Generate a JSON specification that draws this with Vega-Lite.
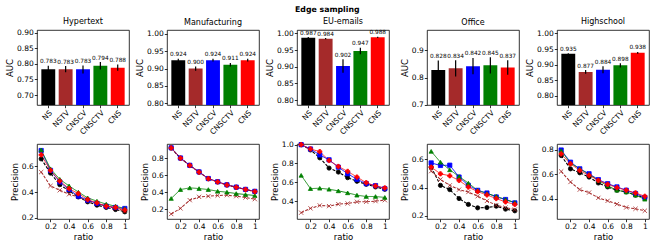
{
"$schema":"https://vega.github.io/schema/vega-lite/v6.json",
"padding":{"left":5,"top":5,"right":5,"bottom":5},
"title":{"text":"Edge sampling","fontWeight":"bold","fontSize":7.8,"frame":"bounds","anchor":"middle","offset":4},
"columns":5,
"spacing":{"row":39,"column":38},
"bounds":"flush",
"resolve":{"scale":{"x":"independent","y":"independent"}},
"config":{
 "font":"DejaVu Sans",
 "view":{"stroke":"black","strokeWidth":0.8},
 "title":{"font":"DejaVu Sans","fontSize":8,"fontWeight":"normal","color":"black","offset":3,"frame":"group","anchor":"middle"},
 "text":{"fill":"black","color":"black"},
 "axis":{"labelFont":"DejaVu Sans","labelFontSize":7.5,"labelColor":"black","titleFont":"DejaVu Sans","titleFontSize":8.5,"titleFontWeight":"normal","titleColor":"black","tickColor":"black","tickSize":2.7,"tickWidth":0.8,"labelPadding":1,"titlePadding":2,"grid":false,"domain":false}
},
"datasets":{
"auc":[
{"d":"Hypertext","m":"NS","a":0.783,"lo":0.772,"hi":0.794},
{"d":"Hypertext","m":"NSTV","a":0.783,"lo":0.773,"hi":0.793},
{"d":"Hypertext","m":"CNSCV","a":0.783,"lo":0.769,"hi":0.795},
{"d":"Hypertext","m":"CNSCTV","a":0.794,"lo":0.782,"hi":0.806},
{"d":"Hypertext","m":"CNS","a":0.788,"lo":0.778,"hi":0.798},
{"d":"Manufacturing","m":"NS","a":0.924,"lo":0.920,"hi":0.928},
{"d":"Manufacturing","m":"NSTV","a":0.900,"lo":0.894,"hi":0.906},
{"d":"Manufacturing","m":"CNSCV","a":0.924,"lo":0.920,"hi":0.928},
{"d":"Manufacturing","m":"CNSCTV","a":0.911,"lo":0.906,"hi":0.916},
{"d":"Manufacturing","m":"CNS","a":0.924,"lo":0.920,"hi":0.928},
{"d":"EU-emails","m":"NS","a":0.987,"lo":0.985,"hi":0.989},
{"d":"EU-emails","m":"NSTV","a":0.984,"lo":0.982,"hi":0.986},
{"d":"EU-emails","m":"CNSCV","a":0.902,"lo":0.882,"hi":0.922},
{"d":"EU-emails","m":"CNSCTV","a":0.947,"lo":0.937,"hi":0.957},
{"d":"EU-emails","m":"CNS","a":0.988,"lo":0.986,"hi":0.990},
{"d":"Office","m":"NS","a":0.828,"lo":0.793,"hi":0.863},
{"d":"Office","m":"NSTV","a":0.834,"lo":0.804,"hi":0.864},
{"d":"Office","m":"CNSCV","a":0.842,"lo":0.812,"hi":0.872},
{"d":"Office","m":"CNSCTV","a":0.845,"lo":0.815,"hi":0.875},
{"d":"Office","m":"CNS","a":0.837,"lo":0.810,"hi":0.864},
{"d":"Highschool","m":"NS","a":0.935,"lo":0.933,"hi":0.937},
{"d":"Highschool","m":"NSTV","a":0.877,"lo":0.871,"hi":0.883},
{"d":"Highschool","m":"CNSCV","a":0.884,"lo":0.873,"hi":0.895},
{"d":"Highschool","m":"CNSCTV","a":0.898,"lo":0.891,"hi":0.905},
{"d":"Highschool","m":"CNS","a":0.938,"lo":0.935,"hi":0.941}
],
"prec":[
{"d":"Hypertext","m":"NS","r":0.1,"p":0.659},{"d":"Hypertext","m":"NS","r":0.2,"p":0.548},{"d":"Hypertext","m":"NS","r":0.3,"p":0.458},{"d":"Hypertext","m":"NS","r":0.4,"p":0.409},{"d":"Hypertext","m":"NS","r":0.5,"p":0.362},{"d":"Hypertext","m":"NS","r":0.6,"p":0.324},{"d":"Hypertext","m":"NS","r":0.7,"p":0.298},{"d":"Hypertext","m":"NS","r":0.8,"p":0.280},{"d":"Hypertext","m":"NS","r":0.9,"p":0.264},{"d":"Hypertext","m":"NS","r":1.0,"p":0.246},
{"d":"Hypertext","m":"NSTV","r":0.1,"p":0.556},{"d":"Hypertext","m":"NSTV","r":0.2,"p":0.448},{"d":"Hypertext","m":"NSTV","r":0.3,"p":0.414},{"d":"Hypertext","m":"NSTV","r":0.4,"p":0.383},{"d":"Hypertext","m":"NSTV","r":0.5,"p":0.363},{"d":"Hypertext","m":"NSTV","r":0.6,"p":0.330},{"d":"Hypertext","m":"NSTV","r":0.7,"p":0.310},{"d":"Hypertext","m":"NSTV","r":0.8,"p":0.290},{"d":"Hypertext","m":"NSTV","r":0.9,"p":0.272},{"d":"Hypertext","m":"NSTV","r":1.0,"p":0.254},
{"d":"Hypertext","m":"CNSCV","r":0.1,"p":0.724},{"d":"Hypertext","m":"CNSCV","r":0.2,"p":0.569},{"d":"Hypertext","m":"CNSCV","r":0.3,"p":0.479},{"d":"Hypertext","m":"CNSCV","r":0.4,"p":0.420},{"d":"Hypertext","m":"CNSCV","r":0.5,"p":0.368},{"d":"Hypertext","m":"CNSCV","r":0.6,"p":0.337},{"d":"Hypertext","m":"CNSCV","r":0.7,"p":0.311},{"d":"Hypertext","m":"CNSCV","r":0.8,"p":0.290},{"d":"Hypertext","m":"CNSCV","r":0.9,"p":0.280},{"d":"Hypertext","m":"CNSCV","r":1.0,"p":0.272},
{"d":"Hypertext","m":"CNSCTV","r":0.1,"p":0.729},{"d":"Hypertext","m":"CNSCTV","r":0.2,"p":0.582},{"d":"Hypertext","m":"CNSCTV","r":0.3,"p":0.500},{"d":"Hypertext","m":"CNSCTV","r":0.4,"p":0.448},{"d":"Hypertext","m":"CNSCTV","r":0.5,"p":0.400},{"d":"Hypertext","m":"CNSCTV","r":0.6,"p":0.355},{"d":"Hypertext","m":"CNSCTV","r":0.7,"p":0.329},{"d":"Hypertext","m":"CNSCTV","r":0.8,"p":0.306},{"d":"Hypertext","m":"CNSCTV","r":0.9,"p":0.290},{"d":"Hypertext","m":"CNSCTV","r":1.0,"p":0.272},
{"d":"Hypertext","m":"CNS","r":0.1,"p":0.690},{"d":"Hypertext","m":"CNS","r":0.2,"p":0.569},{"d":"Hypertext","m":"CNS","r":0.3,"p":0.486},{"d":"Hypertext","m":"CNS","r":0.4,"p":0.427},{"d":"Hypertext","m":"CNS","r":0.5,"p":0.388},{"d":"Hypertext","m":"CNS","r":0.6,"p":0.342},{"d":"Hypertext","m":"CNS","r":0.7,"p":0.316},{"d":"Hypertext","m":"CNS","r":0.8,"p":0.290},{"d":"Hypertext","m":"CNS","r":0.9,"p":0.280},{"d":"Hypertext","m":"CNS","r":1.0,"p":0.260},
{"d":"Manufacturing","m":"NS","r":0.1,"p":0.920},{"d":"Manufacturing","m":"NS","r":0.2,"p":0.800},{"d":"Manufacturing","m":"NS","r":0.3,"p":0.714},{"d":"Manufacturing","m":"NS","r":0.4,"p":0.636},{"d":"Manufacturing","m":"NS","r":0.5,"p":0.558},{"d":"Manufacturing","m":"NS","r":0.6,"p":0.520},{"d":"Manufacturing","m":"NS","r":0.7,"p":0.484},{"d":"Manufacturing","m":"NS","r":0.8,"p":0.457},{"d":"Manufacturing","m":"NS","r":0.9,"p":0.430},{"d":"Manufacturing","m":"NS","r":1.0,"p":0.407},
{"d":"Manufacturing","m":"NSTV","r":0.1,"p":0.142},{"d":"Manufacturing","m":"NSTV","r":0.2,"p":0.208},{"d":"Manufacturing","m":"NSTV","r":0.3,"p":0.305},{"d":"Manufacturing","m":"NSTV","r":0.4,"p":0.344},{"d":"Manufacturing","m":"NSTV","r":0.5,"p":0.352},{"d":"Manufacturing","m":"NSTV","r":0.6,"p":0.360},{"d":"Manufacturing","m":"NSTV","r":0.7,"p":0.364},{"d":"Manufacturing","m":"NSTV","r":0.8,"p":0.352},{"d":"Manufacturing","m":"NSTV","r":0.9,"p":0.336},{"d":"Manufacturing","m":"NSTV","r":1.0,"p":0.317},
{"d":"Manufacturing","m":"CNSCV","r":0.1,"p":0.922},{"d":"Manufacturing","m":"CNSCV","r":0.2,"p":0.802},{"d":"Manufacturing","m":"CNSCV","r":0.3,"p":0.716},{"d":"Manufacturing","m":"CNSCV","r":0.4,"p":0.638},{"d":"Manufacturing","m":"CNSCV","r":0.5,"p":0.560},{"d":"Manufacturing","m":"CNSCV","r":0.6,"p":0.522},{"d":"Manufacturing","m":"CNSCV","r":0.7,"p":0.486},{"d":"Manufacturing","m":"CNSCV","r":0.8,"p":0.459},{"d":"Manufacturing","m":"CNSCV","r":0.9,"p":0.432},{"d":"Manufacturing","m":"CNSCV","r":1.0,"p":0.409},
{"d":"Manufacturing","m":"CNSCTV","r":0.1,"p":0.325},{"d":"Manufacturing","m":"CNSCTV","r":0.2,"p":0.430},{"d":"Manufacturing","m":"CNSCTV","r":0.3,"p":0.450},{"d":"Manufacturing","m":"CNSCTV","r":0.4,"p":0.442},{"d":"Manufacturing","m":"CNSCTV","r":0.5,"p":0.430},{"d":"Manufacturing","m":"CNSCTV","r":0.6,"p":0.410},{"d":"Manufacturing","m":"CNSCTV","r":0.7,"p":0.399},{"d":"Manufacturing","m":"CNSCTV","r":0.8,"p":0.383},{"d":"Manufacturing","m":"CNSCTV","r":0.9,"p":0.371},{"d":"Manufacturing","m":"CNSCTV","r":1.0,"p":0.360},
{"d":"Manufacturing","m":"CNS","r":0.1,"p":0.920},{"d":"Manufacturing","m":"CNS","r":0.2,"p":0.800},{"d":"Manufacturing","m":"CNS","r":0.3,"p":0.714},{"d":"Manufacturing","m":"CNS","r":0.4,"p":0.636},{"d":"Manufacturing","m":"CNS","r":0.5,"p":0.558},{"d":"Manufacturing","m":"CNS","r":0.6,"p":0.520},{"d":"Manufacturing","m":"CNS","r":0.7,"p":0.484},{"d":"Manufacturing","m":"CNS","r":0.8,"p":0.457},{"d":"Manufacturing","m":"CNS","r":0.9,"p":0.430},{"d":"Manufacturing","m":"CNS","r":1.0,"p":0.407},
{"d":"EU-emails","m":"NS","r":0.1,"p":1.0},{"d":"EU-emails","m":"NS","r":0.2,"p":0.944},{"d":"EU-emails","m":"NS","r":0.3,"p":0.860},{"d":"EU-emails","m":"NS","r":0.4,"p":0.751},{"d":"EU-emails","m":"NS","r":0.5,"p":0.709},{"d":"EU-emails","m":"NS","r":0.6,"p":0.649},{"d":"EU-emails","m":"NS","r":0.7,"p":0.611},{"d":"EU-emails","m":"NS","r":0.8,"p":0.579},{"d":"EU-emails","m":"NS","r":0.9,"p":0.551},{"d":"EU-emails","m":"NS","r":1.0,"p":0.526},
{"d":"EU-emails","m":"NSTV","r":0.1,"p":0.277},{"d":"EU-emails","m":"NSTV","r":0.2,"p":0.323},{"d":"EU-emails","m":"NSTV","r":0.3,"p":0.354},{"d":"EU-emails","m":"NSTV","r":0.4,"p":0.347},{"d":"EU-emails","m":"NSTV","r":0.5,"p":0.368},{"d":"EU-emails","m":"NSTV","r":0.6,"p":0.375},{"d":"EU-emails","m":"NSTV","r":0.7,"p":0.393},{"d":"EU-emails","m":"NSTV","r":0.8,"p":0.393},{"d":"EU-emails","m":"NSTV","r":0.9,"p":0.400},{"d":"EU-emails","m":"NSTV","r":1.0,"p":0.410},
{"d":"EU-emails","m":"CNSCV","r":0.1,"p":1.0},{"d":"EU-emails","m":"CNSCV","r":0.2,"p":0.954},{"d":"EU-emails","m":"CNSCV","r":0.3,"p":0.891},{"d":"EU-emails","m":"CNSCV","r":0.4,"p":0.839},{"d":"EU-emails","m":"CNSCV","r":0.5,"p":0.761},{"d":"EU-emails","m":"CNSCV","r":0.6,"p":0.691},{"d":"EU-emails","m":"CNSCV","r":0.7,"p":0.632},{"d":"EU-emails","m":"CNSCV","r":0.8,"p":0.586},{"d":"EU-emails","m":"CNSCV","r":0.9,"p":0.565},{"d":"EU-emails","m":"CNSCV","r":1.0,"p":0.533},
{"d":"EU-emails","m":"CNSCTV","r":0.1,"p":0.674},{"d":"EU-emails","m":"CNSCTV","r":0.2,"p":0.533},{"d":"EU-emails","m":"CNSCTV","r":0.3,"p":0.537},{"d":"EU-emails","m":"CNSCTV","r":0.4,"p":0.526},{"d":"EU-emails","m":"CNSCTV","r":0.5,"p":0.509},{"d":"EU-emails","m":"CNSCTV","r":0.6,"p":0.488},{"d":"EU-emails","m":"CNSCTV","r":0.7,"p":0.463},{"d":"EU-emails","m":"CNSCTV","r":0.8,"p":0.449},{"d":"EU-emails","m":"CNSCTV","r":0.9,"p":0.449},{"d":"EU-emails","m":"CNSCTV","r":1.0,"p":0.439},
{"d":"EU-emails","m":"CNS","r":0.1,"p":1.0},{"d":"EU-emails","m":"CNS","r":0.2,"p":0.954},{"d":"EU-emails","m":"CNS","r":0.3,"p":0.926},{"d":"EU-emails","m":"CNS","r":0.4,"p":0.832},{"d":"EU-emails","m":"CNS","r":0.5,"p":0.768},{"d":"EU-emails","m":"CNS","r":0.6,"p":0.716},{"d":"EU-emails","m":"CNS","r":0.7,"p":0.656},{"d":"EU-emails","m":"CNS","r":0.8,"p":0.596},{"d":"EU-emails","m":"CNS","r":0.9,"p":0.561},{"d":"EU-emails","m":"CNS","r":1.0,"p":0.540},
{"d":"Office","m":"NS","r":0.1,"p":0.544},{"d":"Office","m":"NS","r":0.2,"p":0.415},{"d":"Office","m":"NS","r":0.3,"p":0.385},{"d":"Office","m":"NS","r":0.4,"p":0.322},{"d":"Office","m":"NS","r":0.5,"p":0.280},{"d":"Office","m":"NS","r":0.6,"p":0.256},{"d":"Office","m":"NS","r":0.7,"p":0.258},{"d":"Office","m":"NS","r":0.8,"p":0.268},{"d":"Office","m":"NS","r":0.9,"p":0.247},{"d":"Office","m":"NS","r":1.0,"p":0.235},
{"d":"Office","m":"NSTV","r":0.1,"p":0.516},{"d":"Office","m":"NSTV","r":0.2,"p":0.457},{"d":"Office","m":"NSTV","r":0.3,"p":0.415},{"d":"Office","m":"NSTV","r":0.4,"p":0.385},{"d":"Office","m":"NSTV","r":0.5,"p":0.368},{"d":"Office","m":"NSTV","r":0.6,"p":0.338},{"d":"Office","m":"NSTV","r":0.7,"p":0.305},{"d":"Office","m":"NSTV","r":0.8,"p":0.275},{"d":"Office","m":"NSTV","r":0.9,"p":0.258},{"d":"Office","m":"NSTV","r":1.0,"p":0.244},
{"d":"Office","m":"CNSCV","r":0.1,"p":0.574},{"d":"Office","m":"CNSCV","r":0.2,"p":0.556},{"d":"Office","m":"CNSCV","r":0.3,"p":0.558},{"d":"Office","m":"CNSCV","r":0.4,"p":0.474},{"d":"Office","m":"CNSCV","r":0.5,"p":0.415},{"d":"Office","m":"CNSCV","r":0.6,"p":0.380},{"d":"Office","m":"CNSCV","r":0.7,"p":0.361},{"d":"Office","m":"CNSCV","r":0.8,"p":0.333},{"d":"Office","m":"CNSCV","r":0.9,"p":0.315},{"d":"Office","m":"CNSCV","r":1.0,"p":0.291},
{"d":"Office","m":"CNSCTV","r":0.1,"p":0.656},{"d":"Office","m":"CNSCTV","r":0.2,"p":0.579},{"d":"Office","m":"CNSCTV","r":0.3,"p":0.525},{"d":"Office","m":"CNSCTV","r":0.4,"p":0.478},{"d":"Office","m":"CNSCTV","r":0.5,"p":0.431},{"d":"Office","m":"CNSCTV","r":0.6,"p":0.380},{"d":"Office","m":"CNSCTV","r":0.7,"p":0.357},{"d":"Office","m":"CNSCTV","r":0.8,"p":0.338},{"d":"Office","m":"CNSCTV","r":0.9,"p":0.315},{"d":"Office","m":"CNSCTV","r":1.0,"p":0.294},
{"d":"Office","m":"CNS","r":0.1,"p":0.544},{"d":"Office","m":"CNS","r":0.2,"p":0.497},{"d":"Office","m":"CNS","r":0.3,"p":0.483},{"d":"Office","m":"CNS","r":0.4,"p":0.450},{"d":"Office","m":"CNS","r":0.5,"p":0.403},{"d":"Office","m":"CNS","r":0.6,"p":0.371},{"d":"Office","m":"CNS","r":0.7,"p":0.347},{"d":"Office","m":"CNS","r":0.8,"p":0.322},{"d":"Office","m":"CNS","r":0.9,"p":0.298},{"d":"Office","m":"CNS","r":1.0,"p":0.280},
{"d":"Highschool","m":"NS","r":0.1,"p":0.752},{"d":"Highschool","m":"NS","r":0.2,"p":0.644},{"d":"Highschool","m":"NS","r":0.3,"p":0.612},{"d":"Highschool","m":"NS","r":0.4,"p":0.577},{"d":"Highschool","m":"NS","r":0.5,"p":0.529},{"d":"Highschool","m":"NS","r":0.6,"p":0.497},{"d":"Highschool","m":"NS","r":0.7,"p":0.470},{"d":"Highschool","m":"NS","r":0.8,"p":0.456},{"d":"Highschool","m":"NS","r":0.9,"p":0.430},{"d":"Highschool","m":"NS","r":1.0,"p":0.411},
{"d":"Highschool","m":"NSTV","r":0.1,"p":0.623},{"d":"Highschool","m":"NSTV","r":0.2,"p":0.537},{"d":"Highschool","m":"NSTV","r":0.3,"p":0.475},{"d":"Highschool","m":"NSTV","r":0.4,"p":0.451},{"d":"Highschool","m":"NSTV","r":0.5,"p":0.408},{"d":"Highschool","m":"NSTV","r":0.6,"p":0.384},{"d":"Highschool","m":"NSTV","r":0.7,"p":0.357},{"d":"Highschool","m":"NSTV","r":0.8,"p":0.330},{"d":"Highschool","m":"NSTV","r":0.9,"p":0.319},{"d":"Highschool","m":"NSTV","r":1.0,"p":0.303},
{"d":"Highschool","m":"CNSCV","r":0.1,"p":0.797},{"d":"Highschool","m":"CNSCV","r":0.2,"p":0.698},{"d":"Highschool","m":"CNSCV","r":0.3,"p":0.644},{"d":"Highschool","m":"CNSCV","r":0.4,"p":0.604},{"d":"Highschool","m":"CNSCV","r":0.5,"p":0.556},{"d":"Highschool","m":"CNSCV","r":0.6,"p":0.523},{"d":"Highschool","m":"CNSCV","r":0.7,"p":0.497},{"d":"Highschool","m":"CNSCV","r":0.8,"p":0.470},{"d":"Highschool","m":"CNSCV","r":0.9,"p":0.443},{"d":"Highschool","m":"CNSCV","r":1.0,"p":0.411},
{"d":"Highschool","m":"CNSCTV","r":0.1,"p":0.792},{"d":"Highschool","m":"CNSCTV","r":0.2,"p":0.690},{"d":"Highschool","m":"CNSCTV","r":0.3,"p":0.644},{"d":"Highschool","m":"CNSCTV","r":0.4,"p":0.599},{"d":"Highschool","m":"CNSCTV","r":0.5,"p":0.550},{"d":"Highschool","m":"CNSCTV","r":0.6,"p":0.505},{"d":"Highschool","m":"CNSCTV","r":0.7,"p":0.470},{"d":"Highschool","m":"CNSCTV","r":0.8,"p":0.456},{"d":"Highschool","m":"CNSCTV","r":0.9,"p":0.430},{"d":"Highschool","m":"CNSCTV","r":1.0,"p":0.397},
{"d":"Highschool","m":"CNS","r":0.1,"p":0.765},{"d":"Highschool","m":"CNS","r":0.2,"p":0.685},{"d":"Highschool","m":"CNS","r":0.3,"p":0.631},{"d":"Highschool","m":"CNS","r":0.4,"p":0.591},{"d":"Highschool","m":"CNS","r":0.5,"p":0.550},{"d":"Highschool","m":"CNS","r":0.6,"p":0.518},{"d":"Highschool","m":"CNS","r":0.7,"p":0.491},{"d":"Highschool","m":"CNS","r":0.8,"p":0.470},{"d":"Highschool","m":"CNS","r":0.9,"p":0.448},{"d":"Highschool","m":"CNS","r":1.0,"p":0.421}
]},
"concat":[
{"title":"Hypertext","width":92,"height":75,"data":{"name":"auc"},"transform":[{"filter":"datum.d == 'Hypertext'"}],
 "encoding":{"x":{"field":"m","type":"nominal","sort":["NS","NSTV","CNSCV","CNSCTV","CNS"],"scale":{"paddingInner":0.2,"paddingOuter":0.25},"axis":{"title":null,"labelAngle":-45}}},
 "layer":[
  {"mark":{"type":"bar","clip":true},"encoding":{"y":{"field":"a","type":"quantitative","scale":{"domain":[0.668,0.909],"nice":false,"zero":false},"axis":{"title":"AUC","values":[0.7,0.75,0.8,0.85,0.9],"format":".2f"}},"color":{"field":"m","type":"nominal","scale":{"domain":["NS","NSTV","CNSCV","CNSCTV","CNS"],"range":["#000000","#a52a2a","#0000ff","#008000","#ff0000"]},"legend":null}}},
  {"mark":{"type":"rule","color":"black","strokeWidth":1.2},"encoding":{"y":{"field":"lo","type":"quantitative","axis":{"title":"AUC","values":[0.7,0.75,0.8,0.85,0.9],"format":".2f"}},"y2":{"field":"hi"}}},
  {"mark":{"type":"text","fontSize":5.8,"baseline":"bottom","dy":-1.5,"fill":"black"},"encoding":{"y":{"field":"hi","type":"quantitative","axis":{"title":"AUC","values":[0.7,0.75,0.8,0.85,0.9],"format":".2f"}},"text":{"field":"a","type":"quantitative","format":".3f"}}}
 ]},
{"title":"Manufacturing","width":92,"height":75,"data":{"name":"auc"},"transform":[{"filter":"datum.d == 'Manufacturing'"}],
 "encoding":{"x":{"field":"m","type":"nominal","sort":["NS","NSTV","CNSCV","CNSCTV","CNS"],"scale":{"paddingInner":0.2,"paddingOuter":0.25},"axis":{"title":null,"labelAngle":-45}}},
 "layer":[
  {"mark":{"type":"bar","clip":true},"encoding":{"y":{"field":"a","type":"quantitative","scale":{"domain":[0.795,1.011],"nice":false,"zero":false},"axis":{"title":"AUC","values":[0.8,0.85,0.9,0.95,1.0],"format":".2f"}},"color":{"field":"m","type":"nominal","scale":{"domain":["NS","NSTV","CNSCV","CNSCTV","CNS"],"range":["#000000","#a52a2a","#0000ff","#008000","#ff0000"]},"legend":null}}},
  {"mark":{"type":"rule","color":"black","strokeWidth":1.2},"encoding":{"y":{"field":"lo","type":"quantitative","axis":{"title":"AUC","values":[0.8,0.85,0.9,0.95,1.0],"format":".2f"}},"y2":{"field":"hi"}}},
  {"mark":{"type":"text","fontSize":5.8,"baseline":"bottom","dy":-1.5,"fill":"black"},"encoding":{"y":{"field":"hi","type":"quantitative","axis":{"title":"AUC","values":[0.8,0.85,0.9,0.95,1.0],"format":".2f"}},"text":{"field":"a","type":"quantitative","format":".3f"}}}
 ]},
{"title":"EU-emails","width":92,"height":75,"data":{"name":"auc"},"transform":[{"filter":"datum.d == 'EU-emails'"}],
 "encoding":{"x":{"field":"m","type":"nominal","sort":["NS","NSTV","CNSCV","CNSCTV","CNS"],"scale":{"paddingInner":0.2,"paddingOuter":0.25},"axis":{"title":null,"labelAngle":-45}}},
 "layer":[
  {"mark":{"type":"bar","clip":true},"encoding":{"y":{"field":"a","type":"quantitative","scale":{"domain":[0.785,1.01],"nice":false,"zero":false},"axis":{"title":"AUC","values":[0.8,0.85,0.9,0.95,1.0],"format":".2f"}},"color":{"field":"m","type":"nominal","scale":{"domain":["NS","NSTV","CNSCV","CNSCTV","CNS"],"range":["#000000","#a52a2a","#0000ff","#008000","#ff0000"]},"legend":null}}},
  {"mark":{"type":"rule","color":"black","strokeWidth":1.2},"encoding":{"y":{"field":"lo","type":"quantitative","axis":{"title":"AUC","values":[0.8,0.85,0.9,0.95,1.0],"format":".2f"}},"y2":{"field":"hi"}}},
  {"mark":{"type":"text","fontSize":5.8,"baseline":"bottom","dy":-1.5,"fill":"black"},"encoding":{"y":{"field":"hi","type":"quantitative","axis":{"title":"AUC","values":[0.8,0.85,0.9,0.95,1.0],"format":".2f"}},"text":{"field":"a","type":"quantitative","format":".3f"}}}
 ]},
{"title":"Office","width":92,"height":75,"data":{"name":"auc"},"transform":[{"filter":"datum.d == 'Office'"}],
 "encoding":{"x":{"field":"m","type":"nominal","sort":["NS","NSTV","CNSCV","CNSCTV","CNS"],"scale":{"paddingInner":0.2,"paddingOuter":0.25},"axis":{"title":null,"labelAngle":-45}}},
 "layer":[
  {"mark":{"type":"bar","clip":true},"encoding":{"y":{"field":"a","type":"quantitative","scale":{"domain":[0.699,0.975],"nice":false,"zero":false},"axis":{"title":"AUC","values":[0.7,0.8,0.9],"format":".1f"}},"color":{"field":"m","type":"nominal","scale":{"domain":["NS","NSTV","CNSCV","CNSCTV","CNS"],"range":["#000000","#a52a2a","#0000ff","#008000","#ff0000"]},"legend":null}}},
  {"mark":{"type":"rule","color":"black","strokeWidth":1.2},"encoding":{"y":{"field":"lo","type":"quantitative","axis":{"title":"AUC","values":[0.7,0.8,0.9],"format":".1f"}},"y2":{"field":"hi"}}},
  {"mark":{"type":"text","fontSize":5.8,"baseline":"bottom","dy":-1.5,"fill":"black"},"encoding":{"y":{"field":"hi","type":"quantitative","axis":{"title":"AUC","values":[0.7,0.8,0.9],"format":".1f"}},"text":{"field":"a","type":"quantitative","format":".3f"}}}
 ]},
{"title":"Highschool","width":92,"height":75,"data":{"name":"auc"},"transform":[{"filter":"datum.d == 'Highschool'"}],
 "encoding":{"x":{"field":"m","type":"nominal","sort":["NS","NSTV","CNSCV","CNSCTV","CNS"],"scale":{"paddingInner":0.2,"paddingOuter":0.25},"axis":{"title":null,"labelAngle":-45}}},
 "layer":[
  {"mark":{"type":"bar","clip":true},"encoding":{"y":{"field":"a","type":"quantitative","scale":{"domain":[0.771,1.011],"nice":false,"zero":false},"axis":{"title":"AUC","values":[0.8,0.85,0.9,0.95,1.0],"format":".2f"}},"color":{"field":"m","type":"nominal","scale":{"domain":["NS","NSTV","CNSCV","CNSCTV","CNS"],"range":["#000000","#a52a2a","#0000ff","#008000","#ff0000"]},"legend":null}}},
  {"mark":{"type":"rule","color":"black","strokeWidth":1.2},"encoding":{"y":{"field":"lo","type":"quantitative","axis":{"title":"AUC","values":[0.8,0.85,0.9,0.95,1.0],"format":".2f"}},"y2":{"field":"hi"}}},
  {"mark":{"type":"text","fontSize":5.8,"baseline":"bottom","dy":-1.5,"fill":"black"},"encoding":{"y":{"field":"hi","type":"quantitative","axis":{"title":"AUC","values":[0.8,0.85,0.9,0.95,1.0],"format":".2f"}},"text":{"field":"a","type":"quantitative","format":".3f"}}}
 ]},
{"width":92,"height":75,"data":{"name":"prec"},"transform":[{"filter":"datum.d == 'Hypertext'"}],
 "encoding":{"x":{"field":"r","type":"quantitative","scale":{"domain":[0.055,1.045],"nice":false},"axis":{"title":"ratio","values":[0.2,0.4,0.6,0.8,1],"format":"~g"}},
  "y":{"field":"p","type":"quantitative","scale":{"domain":[0.19,0.775],"nice":false,"zero":false},"axis":{"title":"Precision","values":[0.2,0.4,0.6],"format":".1f"}}},
 "layer":[
  {"mark":{"type":"line","clip":true},"encoding":{"color":{"field":"m","type":"nominal","scale":{"domain":["NS","NSTV","CNSCV","CNSCTV","CNS"],"range":["#000000","#a52a2a","#0000ff","#008000","#ff0000"]},"legend":null},"strokeDash":{"field":"m","type":"nominal","scale":{"domain":["NS","NSTV","CNSCV","CNSCTV","CNS"],"range":[[3,1.5],[3,1.5],[1,0],[1,0],[1,0]]},"legend":null},"strokeWidth":{"field":"m","type":"nominal","scale":{"domain":["NS","NSTV","CNSCV","CNSCTV","CNS"],"range":[1.1,0.8,1.4,1.4,1.4]},"legend":null}}},
  {"mark":{"type":"point","filled":true,"size":18,"strokeWidth":0.8,"opacity":1},"encoding":{"shape":{"field":"m","type":"nominal","scale":{"domain":["NS","NSTV","CNSCV","CNSCTV","CNS"],"range":["circle","M-1,-1L1,1M-1,1L1,-1","square","triangle-up","cross"]},"legend":null},"fill":{"field":"m","type":"nominal","scale":{"domain":["NS","NSTV","CNSCV","CNSCTV","CNS"],"range":["#000000","#a52a2a","#0000ff","#008000","#ff0000"]},"legend":null},"stroke":{"field":"m","type":"nominal","scale":{"domain":["NS","NSTV","CNSCV","CNSCTV","CNS"],"range":["#000000","#a52a2a","#0000ff","#008000","#ff0000"]},"legend":null}}}
 ]},
{"width":92,"height":75,"data":{"name":"prec"},"transform":[{"filter":"datum.d == 'Manufacturing'"}],
 "encoding":{"x":{"field":"r","type":"quantitative","scale":{"domain":[0.055,1.045],"nice":false},"axis":{"title":"ratio","values":[0.2,0.4,0.6,0.8,1],"format":"~g"}},
  "y":{"field":"p","type":"quantitative","scale":{"domain":[0.083,0.967],"nice":false,"zero":false},"axis":{"title":"Precision","values":[0.2,0.4,0.6,0.8],"format":".1f"}}},
 "layer":[
  {"mark":{"type":"line","clip":true},"encoding":{"color":{"field":"m","type":"nominal","scale":{"domain":["NS","NSTV","CNSCV","CNSCTV","CNS"],"range":["#000000","#a52a2a","#0000ff","#008000","#ff0000"]},"legend":null},"strokeDash":{"field":"m","type":"nominal","scale":{"domain":["NS","NSTV","CNSCV","CNSCTV","CNS"],"range":[[3,1.5],[3,1.5],[1,0],[1,0],[1,0]]},"legend":null},"strokeWidth":{"field":"m","type":"nominal","scale":{"domain":["NS","NSTV","CNSCV","CNSCTV","CNS"],"range":[1.1,0.8,1.4,1.4,1.4]},"legend":null}}},
  {"mark":{"type":"point","filled":true,"size":18,"strokeWidth":0.8,"opacity":1},"encoding":{"shape":{"field":"m","type":"nominal","scale":{"domain":["NS","NSTV","CNSCV","CNSCTV","CNS"],"range":["circle","M-1,-1L1,1M-1,1L1,-1","square","triangle-up","cross"]},"legend":null},"fill":{"field":"m","type":"nominal","scale":{"domain":["NS","NSTV","CNSCV","CNSCTV","CNS"],"range":["#000000","#a52a2a","#0000ff","#008000","#ff0000"]},"legend":null},"stroke":{"field":"m","type":"nominal","scale":{"domain":["NS","NSTV","CNSCV","CNSCTV","CNS"],"range":["#000000","#a52a2a","#0000ff","#008000","#ff0000"]},"legend":null}}}
 ]},
{"width":92,"height":75,"data":{"name":"prec"},"transform":[{"filter":"datum.d == 'EU-emails'"}],
 "encoding":{"x":{"field":"r","type":"quantitative","scale":{"domain":[0.055,1.045],"nice":false},"axis":{"title":"ratio","values":[0.2,0.4,0.6,0.8,1],"format":"~g"}},
  "y":{"field":"p","type":"quantitative","scale":{"domain":[0.21,1.007],"nice":false,"zero":false},"axis":{"title":"Precision","values":[0.4,0.6,0.8,1.0],"format":".1f"}}},
 "layer":[
  {"mark":{"type":"line","clip":true},"encoding":{"color":{"field":"m","type":"nominal","scale":{"domain":["NS","NSTV","CNSCV","CNSCTV","CNS"],"range":["#000000","#a52a2a","#0000ff","#008000","#ff0000"]},"legend":null},"strokeDash":{"field":"m","type":"nominal","scale":{"domain":["NS","NSTV","CNSCV","CNSCTV","CNS"],"range":[[3,1.5],[3,1.5],[1,0],[1,0],[1,0]]},"legend":null},"strokeWidth":{"field":"m","type":"nominal","scale":{"domain":["NS","NSTV","CNSCV","CNSCTV","CNS"],"range":[1.1,0.8,1.4,1.4,1.4]},"legend":null}}},
  {"mark":{"type":"point","filled":true,"size":18,"strokeWidth":0.8,"opacity":1},"encoding":{"shape":{"field":"m","type":"nominal","scale":{"domain":["NS","NSTV","CNSCV","CNSCTV","CNS"],"range":["circle","M-1,-1L1,1M-1,1L1,-1","square","triangle-up","cross"]},"legend":null},"fill":{"field":"m","type":"nominal","scale":{"domain":["NS","NSTV","CNSCV","CNSCTV","CNS"],"range":["#000000","#a52a2a","#0000ff","#008000","#ff0000"]},"legend":null},"stroke":{"field":"m","type":"nominal","scale":{"domain":["NS","NSTV","CNSCV","CNSCTV","CNS"],"range":["#000000","#a52a2a","#0000ff","#008000","#ff0000"]},"legend":null}}}
 ]},
{"width":92,"height":75,"data":{"name":"prec"},"transform":[{"filter":"datum.d == 'Office'"}],
 "encoding":{"x":{"field":"r","type":"quantitative","scale":{"domain":[0.055,1.045],"nice":false},"axis":{"title":"ratio","values":[0.2,0.4,0.6,0.8,1],"format":"~g"}},
  "y":{"field":"p","type":"quantitative","scale":{"domain":[0.177,0.708],"nice":false,"zero":false},"axis":{"title":"Precision","values":[0.2,0.4,0.6],"format":".1f"}}},
 "layer":[
  {"mark":{"type":"line","clip":true},"encoding":{"color":{"field":"m","type":"nominal","scale":{"domain":["NS","NSTV","CNSCV","CNSCTV","CNS"],"range":["#000000","#a52a2a","#0000ff","#008000","#ff0000"]},"legend":null},"strokeDash":{"field":"m","type":"nominal","scale":{"domain":["NS","NSTV","CNSCV","CNSCTV","CNS"],"range":[[3,1.5],[3,1.5],[1,0],[1,0],[1,0]]},"legend":null},"strokeWidth":{"field":"m","type":"nominal","scale":{"domain":["NS","NSTV","CNSCV","CNSCTV","CNS"],"range":[1.1,0.8,1.4,1.4,1.4]},"legend":null}}},
  {"mark":{"type":"point","filled":true,"size":18,"strokeWidth":0.8,"opacity":1},"encoding":{"shape":{"field":"m","type":"nominal","scale":{"domain":["NS","NSTV","CNSCV","CNSCTV","CNS"],"range":["circle","M-1,-1L1,1M-1,1L1,-1","square","triangle-up","cross"]},"legend":null},"fill":{"field":"m","type":"nominal","scale":{"domain":["NS","NSTV","CNSCV","CNSCTV","CNS"],"range":["#000000","#a52a2a","#0000ff","#008000","#ff0000"]},"legend":null},"stroke":{"field":"m","type":"nominal","scale":{"domain":["NS","NSTV","CNSCV","CNSCTV","CNS"],"range":["#000000","#a52a2a","#0000ff","#008000","#ff0000"]},"legend":null}}}
 ]},
{"width":92,"height":75,"data":{"name":"prec"},"transform":[{"filter":"datum.d == 'Highschool'"}],
 "encoding":{"x":{"field":"r","type":"quantitative","scale":{"domain":[0.055,1.045],"nice":false},"axis":{"title":"ratio","values":[0.2,0.4,0.6,0.8,1],"format":"~g"}},
  "y":{"field":"p","type":"quantitative","scale":{"domain":[0.236,0.846],"nice":false,"zero":false},"axis":{"title":"Precision","values":[0.4,0.6,0.8],"format":".1f"}}},
 "layer":[
  {"mark":{"type":"line","clip":true},"encoding":{"color":{"field":"m","type":"nominal","scale":{"domain":["NS","NSTV","CNSCV","CNSCTV","CNS"],"range":["#000000","#a52a2a","#0000ff","#008000","#ff0000"]},"legend":null},"strokeDash":{"field":"m","type":"nominal","scale":{"domain":["NS","NSTV","CNSCV","CNSCTV","CNS"],"range":[[3,1.5],[3,1.5],[1,0],[1,0],[1,0]]},"legend":null},"strokeWidth":{"field":"m","type":"nominal","scale":{"domain":["NS","NSTV","CNSCV","CNSCTV","CNS"],"range":[1.1,0.8,1.4,1.4,1.4]},"legend":null}}},
  {"mark":{"type":"point","filled":true,"size":18,"strokeWidth":0.8,"opacity":1},"encoding":{"shape":{"field":"m","type":"nominal","scale":{"domain":["NS","NSTV","CNSCV","CNSCTV","CNS"],"range":["circle","M-1,-1L1,1M-1,1L1,-1","square","triangle-up","cross"]},"legend":null},"fill":{"field":"m","type":"nominal","scale":{"domain":["NS","NSTV","CNSCV","CNSCTV","CNS"],"range":["#000000","#a52a2a","#0000ff","#008000","#ff0000"]},"legend":null},"stroke":{"field":"m","type":"nominal","scale":{"domain":["NS","NSTV","CNSCV","CNSCTV","CNS"],"range":["#000000","#a52a2a","#0000ff","#008000","#ff0000"]},"legend":null}}}
 ]}
]
}
